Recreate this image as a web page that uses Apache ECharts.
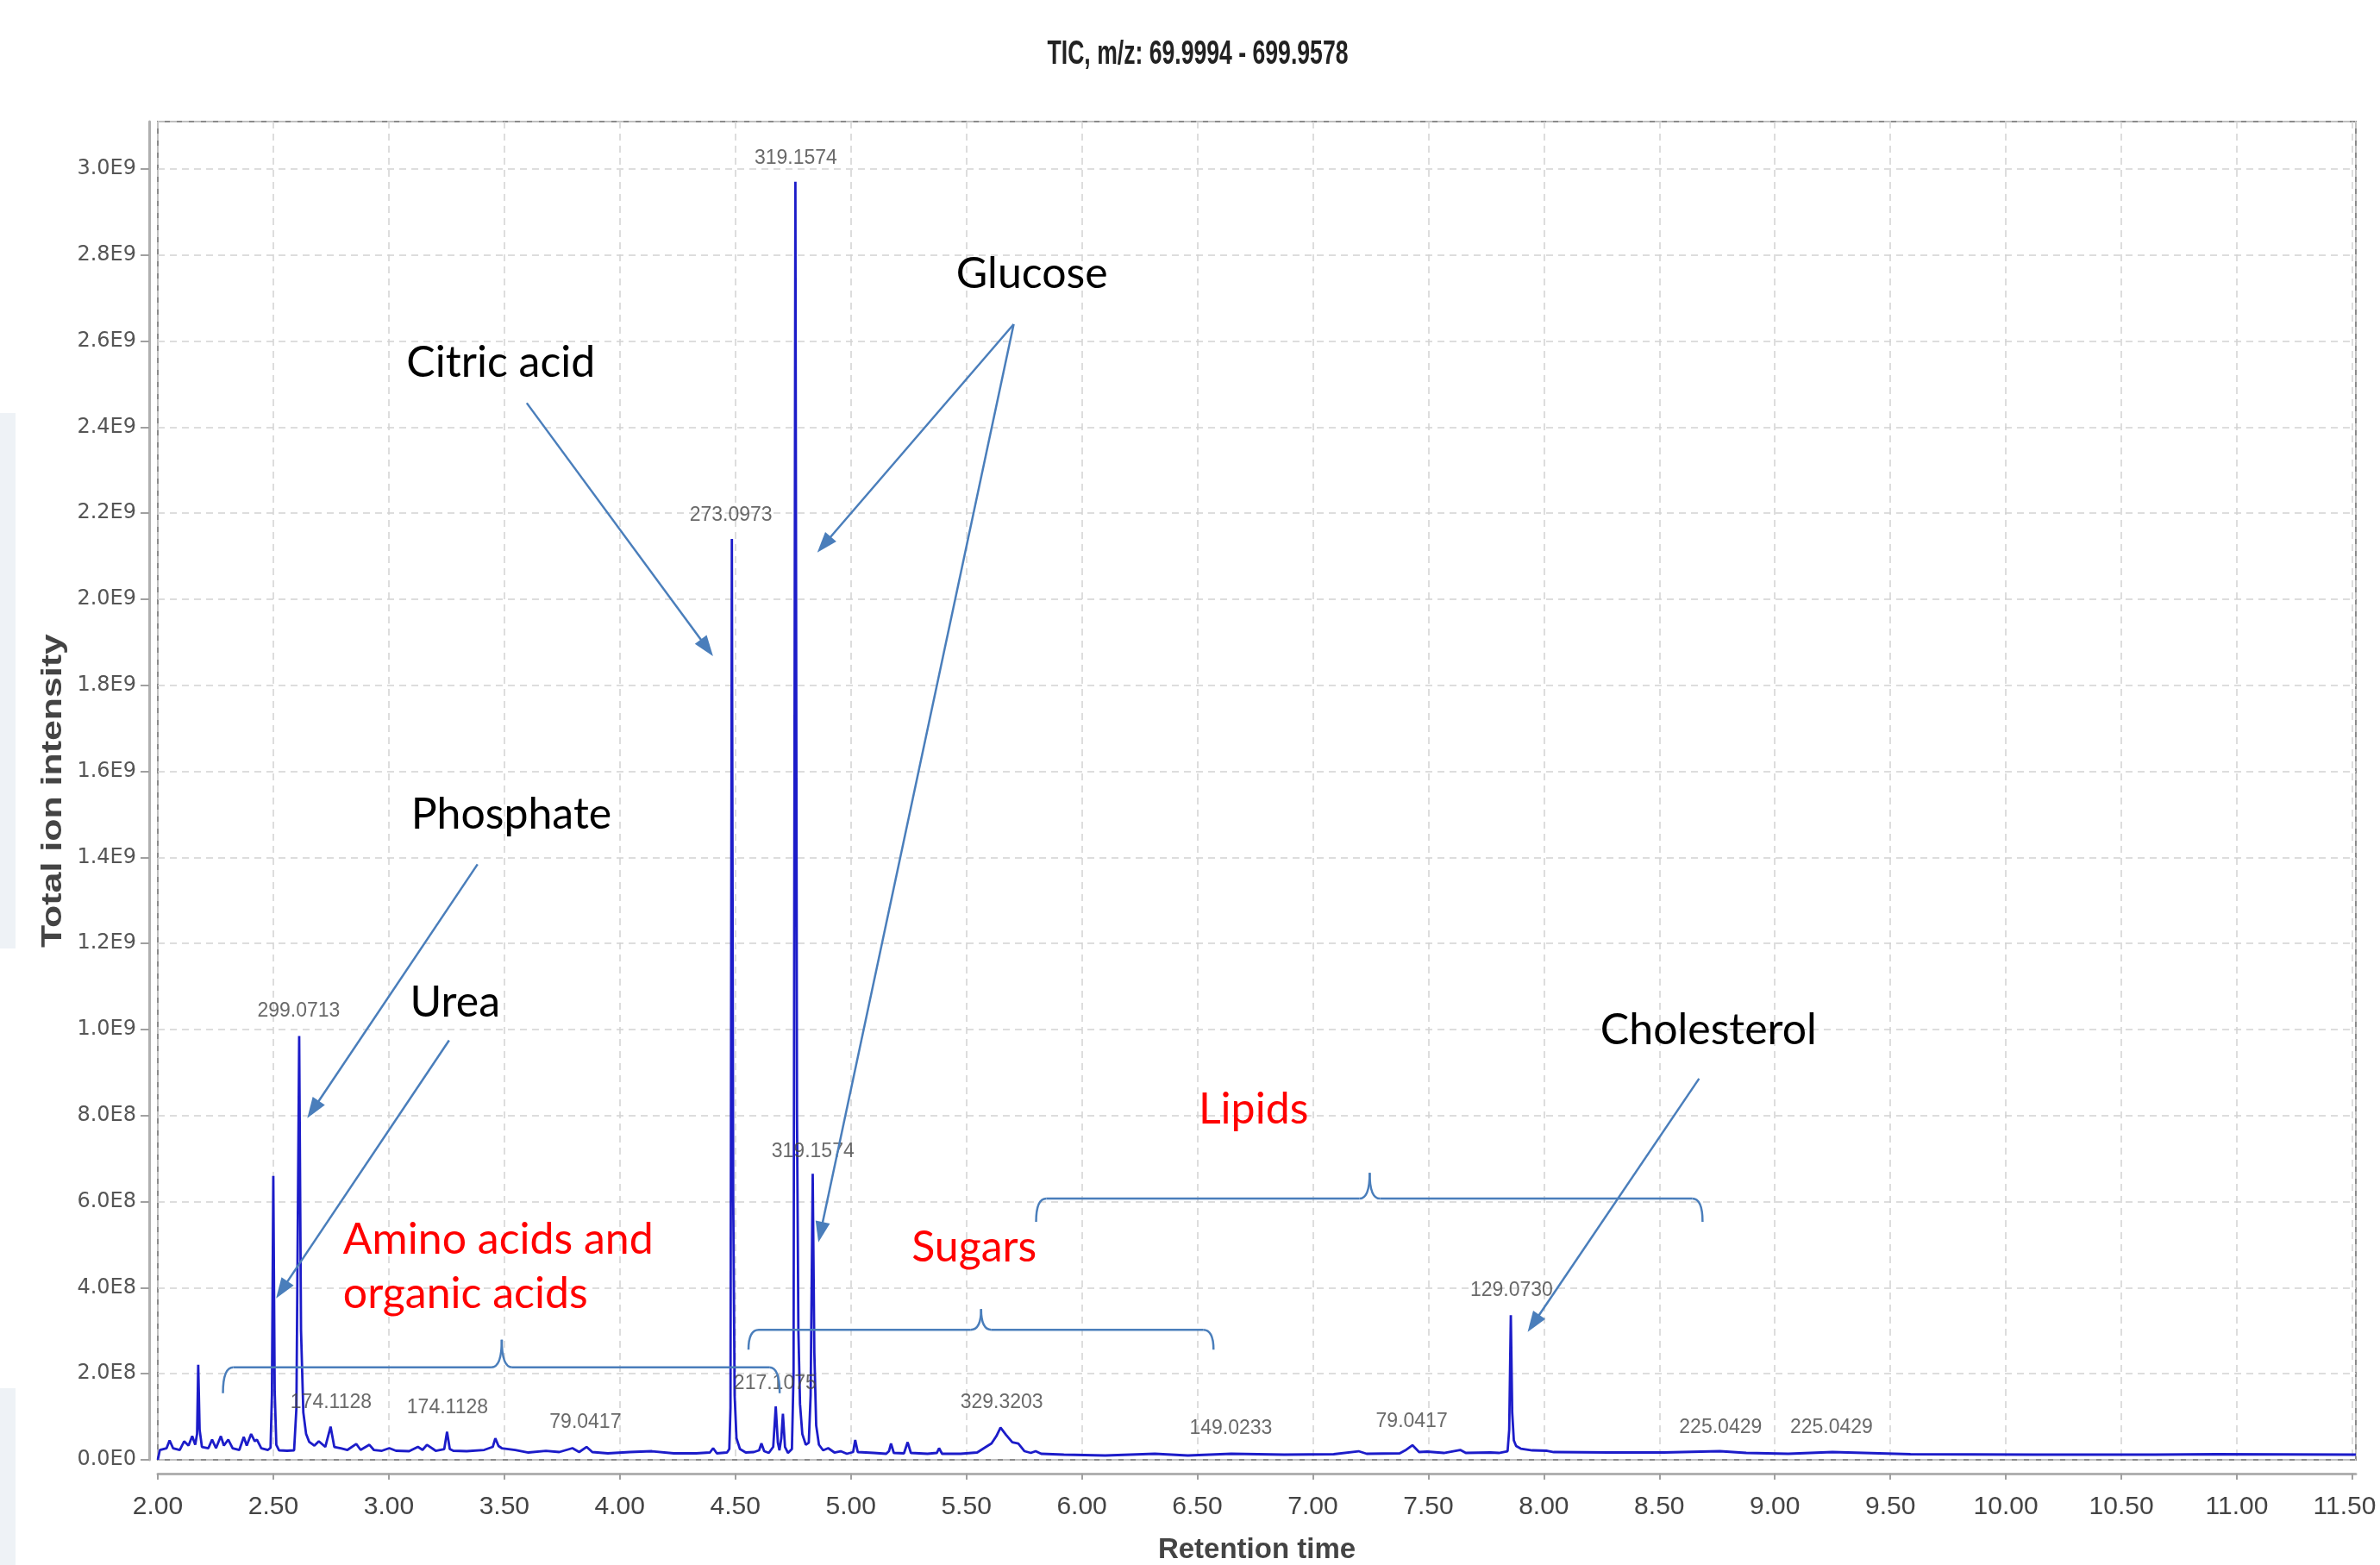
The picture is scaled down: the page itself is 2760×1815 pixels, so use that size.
<!DOCTYPE html>
<html><head><meta charset="utf-8">
<script src="https://cdn.jsdelivr.net/npm/echarts@6/dist/echarts.min.js"></script>
<style>html,body{margin:0;padding:0;background:#fff}#c{width:2760px;height:1815px}</style>
</head><body><div id="c"></div>
<script>
// ---- data (retention time [min], total ion intensity) ----
const ticPoints = [
[2.000,0.00e8],[2.009,0.23e8],[2.038,0.27e8],[2.051,0.45e8],[2.066,0.27e8],[2.095,0.23e8],[2.114,0.43e8],
[2.133,0.33e8],[2.149,0.55e8],[2.162,0.35e8],[2.170,0.60e8],[2.175,2.21e8],[2.181,0.70e8],[2.191,0.30e8],
[2.219,0.27e8],[2.235,0.47e8],[2.252,0.27e8],[2.273,0.55e8],[2.286,0.33e8],[2.305,0.47e8],[2.324,0.27e8],
[2.353,0.23e8],[2.372,0.53e8],[2.385,0.33e8],[2.404,0.60e8],[2.420,0.43e8],[2.429,0.47e8],[2.448,0.27e8],
[2.477,0.23e8],[2.488,0.28e8],[2.494,1.50e8],[2.500,6.60e8],[2.506,1.60e8],[2.513,0.35e8],[2.525,0.22e8],
[2.560,0.21e8],[2.590,0.22e8],[2.600,1.20e8],[2.612,9.85e8],[2.620,3.00e8],[2.630,1.10e8],[2.642,0.60e8],
[2.655,0.42e8],[2.678,0.33e8],[2.697,0.43e8],[2.725,0.30e8],[2.748,0.77e8],[2.764,0.30e8],[2.792,0.27e8],
[2.821,0.23e8],[2.859,0.37e8],[2.878,0.23e8],[2.916,0.35e8],[2.935,0.23e8],[2.970,0.21e8],[3.002,0.27e8],
[3.031,0.21e8],[3.088,0.20e8],[3.126,0.30e8],[3.146,0.23e8],[3.165,0.35e8],[3.203,0.21e8],[3.240,0.25e8],
[3.252,0.65e8],[3.264,0.25e8],[3.279,0.21e8],[3.337,0.20e8],[3.413,0.23e8],[3.450,0.30e8],[3.461,0.50e8],
[3.475,0.32e8],[3.489,0.27e8],[3.518,0.25e8],[3.547,0.23e8],[3.604,0.17e8],[3.680,0.21e8],[3.738,0.18e8],
[3.795,0.27e8],[3.824,0.18e8],[3.856,0.30e8],[3.881,0.18e8],[3.948,0.15e8],[4.043,0.18e8],[4.139,0.20e8],
[4.234,0.15e8],[4.330,0.15e8],[4.390,0.17e8],[4.404,0.27e8],[4.420,0.15e8],[4.464,0.17e8],[4.474,0.25e8],
[4.479,1.20e8],[4.485,21.40e8],[4.491,6.00e8],[4.497,1.50e8],[4.505,0.50e8],[4.520,0.25e8],[4.545,0.17e8],
[4.580,0.18e8],[4.603,0.22e8],[4.613,0.38e8],[4.625,0.20e8],[4.645,0.16e8],[4.664,0.30e8],[4.675,1.24e8],
[4.684,0.40e8],[4.691,0.22e8],[4.699,0.50e8],[4.706,1.07e8],[4.715,0.30e8],[4.728,0.16e8],[4.745,0.25e8],
[4.752,2.00e8],[4.760,29.70e8],[4.767,8.00e8],[4.773,3.00e8],[4.780,1.30e8],[4.790,0.60e8],[4.805,0.35e8],
[4.818,0.40e8],[4.826,1.50e8],[4.835,6.65e8],[4.842,2.50e8],[4.850,0.80e8],[4.862,0.35e8],[4.880,0.22e8],
[4.902,0.27e8],[4.929,0.17e8],[4.956,0.20e8],[4.983,0.14e8],[5.010,0.18e8],[5.019,0.46e8],[5.030,0.18e8],
[5.099,0.16e8],[5.153,0.14e8],[5.165,0.20e8],[5.174,0.38e8],[5.186,0.16e8],[5.230,0.15e8],[5.246,0.41e8],
[5.260,0.16e8],[5.332,0.14e8],[5.372,0.16e8],[5.382,0.27e8],[5.395,0.14e8],[5.475,0.14e8],[5.547,0.17e8],
[5.591,0.32e8],[5.609,0.38e8],[5.630,0.55e8],[5.648,0.75e8],[5.672,0.58e8],[5.699,0.41e8],[5.725,0.38e8],
[5.752,0.20e8],[5.779,0.16e8],[5.800,0.20e8],[5.824,0.14e8],[5.922,0.12e8],[6.101,0.10e8],[6.316,0.14e8],
[6.459,0.10e8],[6.647,0.14e8],[6.876,0.12e8],[7.090,0.13e8],[7.198,0.20e8],[7.233,0.14e8],[7.376,0.15e8],
[7.400,0.22e8],[7.431,0.34e8],[7.460,0.18e8],[7.495,0.19e8],[7.567,0.16e8],[7.638,0.23e8],[7.662,0.16e8],
[7.769,0.17e8],[7.805,0.16e8],[7.843,0.20e8],[7.850,0.70e8],[7.857,3.36e8],[7.863,1.10e8],[7.870,0.45e8],
[7.880,0.32e8],[7.900,0.26e8],[7.950,0.22e8],[8.014,0.21e8],[8.043,0.18e8],[8.281,0.17e8],[8.519,0.17e8],
[8.762,0.20e8],[8.876,0.16e8],[9.058,0.14e8],[9.249,0.18e8],[9.587,0.13e8],[10.116,0.12e8],[10.646,0.12e8],
[10.910,0.13e8],[11.500,0.12e8],[11.515,0.12e8]
];

const peakLabelTime = [4.762, 4.481, 2.61, 4.836, 2.75, 3.254, 3.851, 4.672, 5.653, 6.645, 7.428, 7.860, 8.765, 9.245];
const peakLabelIntensity = [3.025e9, 2.195e9, 1.042e9, 0.717e9, 0.132e9, 0.120e9, 0.086e9, 0.178e9, 0.132e9, 0.072e9, 0.088e9, 0.394e9, 0.074e9, 0.074e9];
const peakLabelText = ['319.1574','273.0973','299.0713','319.1574','174.1128','174.1128','79.0417','217.1075','329.3203','149.0233','79.0417','129.0730','225.0429','225.0429'];

const compoundText = ['Citric acid','Glucose','Phosphate','Urea','Cholesterol'];
const compoundTime = [3.485, 5.784, 3.530, 3.287, 8.713];
const compoundIntensity = [2.549e9, 2.755e9, 1.500e9, 1.063e9, 0.999e9];

const classText = ['Amino acids and','organic acids','Sugars','Lipids'];
const classTime = [2.802, 2.802, 5.534, 6.743];
const classIntensity = [0.511e9, 0.385e9, 0.493e9, 0.814e9];
const classAlign = ['left','left','center','center'];

// arrows: [time, intensity] of start and of arrow tip
const arrowFrom = [[3.597,2.456e9],[5.705,2.639e9],[5.705,2.639e9],[3.384,1.384e9],[3.261,0.975e9],[8.672,0.886e9]];
const arrowTo   = [[4.377,1.887e9],[4.884,2.127e9],[4.869,0.529e9],[2.672,0.814e9],[2.537,0.395e9],[7.955,0.317e9]];

// braces
const braceLeft  = [2.282, 4.557, 5.802];
const braceRight = [4.692, 6.570, 8.687];
const braceMid   = [3.489, 5.564, 7.246];
const braceLevel = [2.15e8, 3.02e8, 6.07e8];
const braceEnd   = [1.55e8, 2.56e8, 5.53e8];
const braceTip   = [2.79e8, 3.50e8, 6.67e8];

const xTickStep = 0.5, yTickStep = 2e8, xLastTick = 11.5;

function fmtY(v){
  const k = v / yTickStep;
  if (Math.abs(k - Math.round(k)) > 1e-6) return '';
  if (Math.abs(v) < 1) return '0.0E0';
  const e = Math.floor(Math.log10(v) + 1e-9);
  return (v / Math.pow(10, e)).toFixed(1) + 'E' + e;
}
function fmtX(v){
  const k = v / xTickStep;
  if (Math.abs(k - Math.round(k)) > 1e-6) return '';
  if (Math.abs(v - xLastTick) < 1e-6) return '{last|' + v.toFixed(2) + '}';
  return v.toFixed(2);
}

const chart = echarts.init(document.getElementById('c'));
const ARROW = '#4a7ebb';
const gridLine = {show:true, lineStyle:{color:'#d2d2d2', type:[8,6], width:1.5}};

chart.setOption({
  animation:false,
  backgroundColor:'#ffffff',
  grid:{left:183, right:28, top:141, bottom:122, outerBoundsMode:'none', containLabel:false,
        show:true, borderColor:'#8a8a8a', borderWidth:2, backgroundColor:'#ffffff'},
  xAxis:{
    type:'value', min:2, max:11.515, interval:xTickStep, offset:16,
    name:'Retention time', nameLocation:'middle', nameGap:72,
    nameTextStyle:{fontFamily:'Liberation Sans', fontWeight:'bold', fontSize:33, color:'#444'},
    axisLine:{show:true, onZero:false, lineStyle:{color:'#b0b0b0', width:3}},
    axisTick:{show:true, length:7, lineStyle:{color:'#a0a0a0', width:2}},
    axisLabel:{margin:24, fontFamily:'Liberation Sans', fontSize:30, color:'#444', formatter:fmtX, showMaxLabel:false,
      rich:{last:{fontFamily:'Liberation Sans', fontSize:30, color:'#444', padding:[0,18,0,0]}}},
    splitLine:gridLine
  },
  yAxis:{
    type:'value', min:0, max:3.11e9, interval:yTickStep, offset:10,
    axisLine:{show:true, lineStyle:{color:'#b0b0b0', width:3}},
    axisTick:{show:true, length:10, lineStyle:{color:'#a0a0a0', width:2}},
    axisLabel:{margin:15, fontFamily:'DejaVu Sans', fontSize:24, color:'#555', formatter:fmtY, showMaxLabel:false},
    splitLine:gridLine
  },
  series:[
    {
      name:'TIC', type:'line', data:ticPoints, showSymbol:false, symbol:'none', z:3,
      lineStyle:{color:'#1c1cc9', width:2.8}, silent:true,
      markLine:{
        silent:true, animation:false, symbol:['none','triangle'], symbolSize:[17,24],
        label:{show:false}, emphasis:{disabled:true},
        lineStyle:{color:ARROW, width:2.5, type:'solid'},
        data: arrowFrom.map((f,i)=>[{coord:f},{coord:arrowTo[i]}])
      }
    },
    {
      name:'peakLabels', type:'scatter', symbolSize:1, z:4, silent:true,
      itemStyle:{color:'rgba(0,0,0,0)'},
      data: peakLabelTime.map((t,i)=>[t, peakLabelIntensity[i], peakLabelText[i]]),
      label:{show:true, position:'inside', formatter:p=>p.data[2], fontFamily:'Liberation Sans', fontSize:23, color:'#444'}
    }
  ]
});

function px(t, v){ return chart.convertToPixel({gridIndex:0}, [t, v]); }
const g = [];
// slide-edge strips
g.push({type:'rect', shape:{x:0,y:479,width:18,height:621}, style:{fill:'#eef2f6'}, z:-1});
g.push({type:'rect', shape:{x:0,y:1610,width:18,height:205}, style:{fill:'#eef2f6'}, z:-1});
// title (condensed look)
g.push({type:'text', x:1389, y:64, scaleX:0.7, style:{text:'TIC, m/z: 69.9994 - 699.9578', font:'bold 38px "Liberation Sans"', fill:'#222', align:'center', verticalAlign:'middle'}});
// y axis title
const yMid = px(2, 1.555e9);
g.push({type:'text', x:62, y:yMid[1], rotation:Math.PI/2, scaleX:1.3, style:{text:'Total ion intensity', font:'bold 33px "Liberation Sans"', fill:'#444', align:'center', verticalAlign:'middle'}});
// compound names
compoundText.forEach((s,i)=>{
  const p = px(compoundTime[i], compoundIntensity[i]);
  g.push({type:'text', x:p[0], y:p[1], z:10, style:{text:s, font:'50px Lato', fill:'#000', align:'center', verticalAlign:'middle'}});
});
classText.forEach((s,i)=>{
  const p = px(classTime[i], classIntensity[i]);
  g.push({type:'text', x:p[0], y:p[1], z:10, style:{text:s, font:'50px Lato', fill:'#ff0000', align:classAlign[i], verticalAlign:'middle'}});
});
// braces
const bs = {stroke:ARROW, lineWidth:2.5, fill:null};
braceLeft.forEach((l,i)=>{
  const a = px(l, braceEnd[i]), b = px(l, braceLevel[i]);
  const m = px(braceMid[i], braceLevel[i]), tp = px(braceMid[i], braceTip[i]);
  const r = px(braceRight[i], braceEnd[i]);
  const y = b[1], R = 12;
  g.push({type:'bezierCurve', z:9, shape:{x1:a[0],y1:a[1],cpx1:a[0],cpy1:y,x2:a[0]+R,y2:y}, style:bs});
  g.push({type:'line', z:9, shape:{x1:a[0]+R,y1:y,x2:m[0]-R,y2:y}, style:bs});
  g.push({type:'bezierCurve', z:9, shape:{x1:m[0]-R,y1:y,cpx1:m[0],cpy1:y,x2:tp[0],y2:tp[1]}, style:bs});
  g.push({type:'bezierCurve', z:9, shape:{x1:tp[0],y1:tp[1],cpx1:m[0],cpy1:y,x2:m[0]+R,y2:y}, style:bs});
  g.push({type:'line', z:9, shape:{x1:m[0]+R,y1:y,x2:r[0]-R,y2:y}, style:bs});
  g.push({type:'bezierCurve', z:9, shape:{x1:r[0]-R,y1:y,cpx1:r[0],cpy1:y,x2:r[0],y2:r[1]}, style:bs});
});
chart.setOption({graphic:g});
</script></body></html>
